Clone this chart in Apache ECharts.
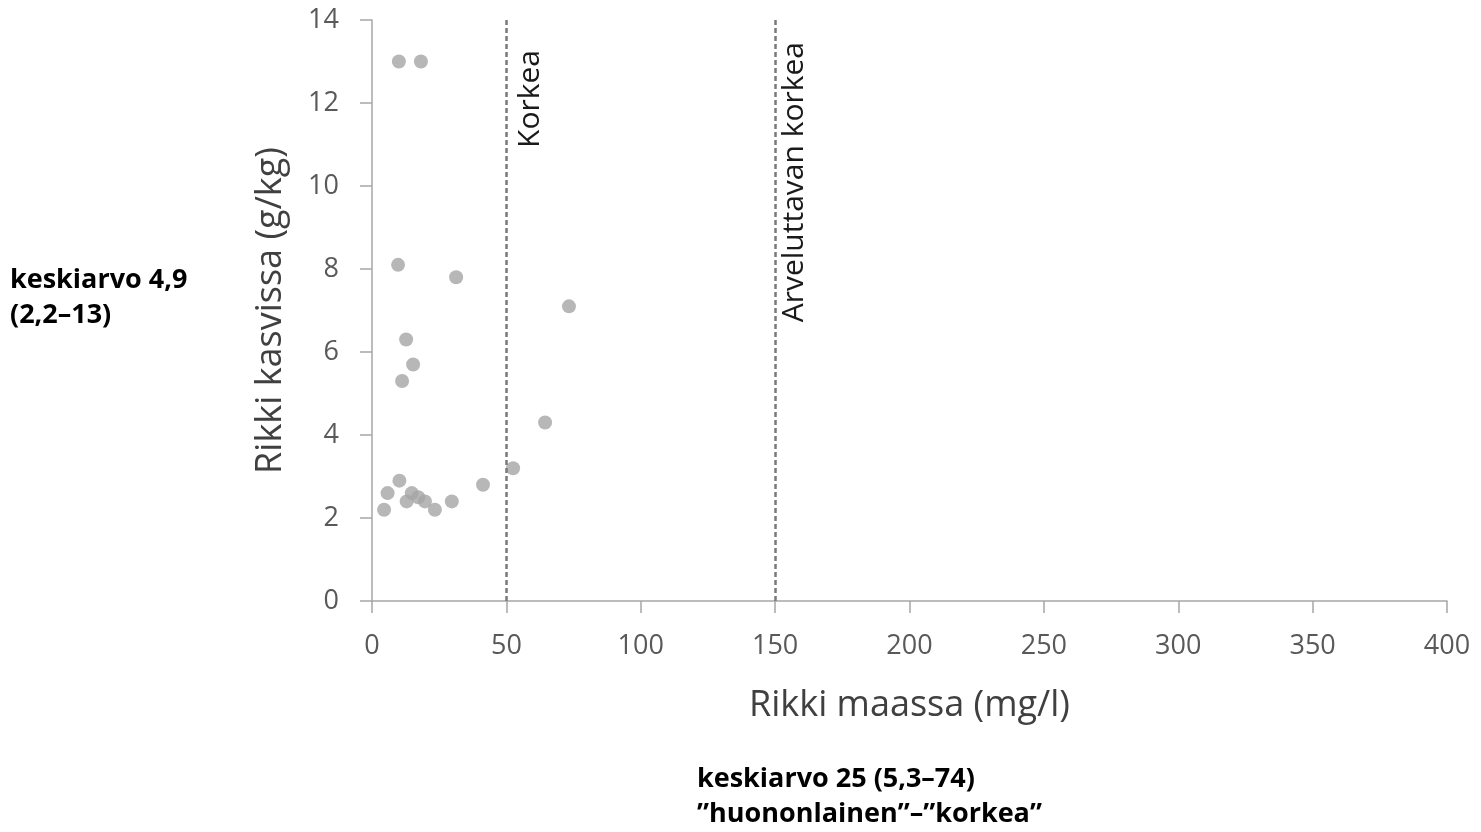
<!DOCTYPE html>
<html>
<head>
<meta charset="utf-8">
<script src="https://cdn.jsdelivr.net/npm/echarts@6/dist/echarts.min.js"></script>
<style>
html,body{margin:0;padding:0;background:#fff;}
#chart{width:1481px;height:832px;}
</style>
</head>
<body>
<div id="chart"></div>
<script>
// Rikki maassa (mg/l) values
var soilSulfur = [10, 18.2, 9.7, 31.3, 73.3, 12.7, 15.3, 11.2, 64.4, 52.5, 41.3, 10.2, 5.8, 4.5, 14.8, 12.9, 17.2, 19.7, 23.4, 29.7];
// Rikki kasvissa (g/kg) values
var plantSulfur = [13, 13, 8.1, 7.8, 7.1, 6.3, 5.7, 5.3, 4.3, 3.2, 2.8, 2.9, 2.6, 2.2, 2.6, 2.4, 2.5, 2.4, 2.2, 2.4];
var thresholds = [50, 150];
var thresholdLabels = ['Korkea', 'Arveluttavan korkea'];
var xTitle = 'Rikki maassa (mg/l)';
var yTitle = 'Rikki kasvissa (g/kg)';
var leftNote = ['keskiarvo 4,9', '(2,2\u201313)'];
var bottomNote = ['keskiarvo 25 (5,3\u201374)', '\u201Dhuononlainen\u201D\u2013\u201Dkorkea\u201D'];

var points = soilSulfur.map(function (x, i) { return [x, plantSulfur[i]]; });
var font = '"Open Sans", "Noto Sans", sans-serif';
var labelDist = [[30, 9], [22, 4]];

var chart = echarts.init(document.getElementById('chart'));
chart.setOption({
  animation: false,
  backgroundColor: '#fff',
  grid: { left: 372, right: 34, top: 20, bottom: 231 },
  xAxis: {
    type: 'value', min: 0, max: 400, interval: 50,
    name: xTitle, nameLocation: 'middle', nameGap: 87,
    nameTextStyle: { fontFamily: font, fontSize: 36, color: '#404040' },
    axisLine: { show: true, lineStyle: { color: '#a6a6a6', width: 1.5 } },
    axisTick: { show: true, length: 12, lineStyle: { color: '#a6a6a6', width: 1.5 } },
    axisLabel: { fontFamily: font, fontSize: 27, color: '#595959', margin: 32 },
    splitLine: { show: false }
  },
  yAxis: {
    type: 'value', min: 0, max: 14, interval: 2,
    name: yTitle, nameLocation: 'middle', nameGap: 83,
    nameTextStyle: { fontFamily: font, fontSize: 36, color: '#404040' },
    axisLine: { show: true, lineStyle: { color: '#a6a6a6', width: 1.5 } },
    axisTick: { show: true, length: 12, lineStyle: { color: '#a6a6a6', width: 1.5 } },
    axisLabel: { fontFamily: font, fontSize: 27, color: '#595959', margin: 33 },
    splitLine: { show: false }
  },
  series: [{
    type: 'scatter',
    data: points,
    symbolSize: 14,
    itemStyle: { color: '#a5a5a5' },
    markLine: {
      silent: true,
      symbol: ['none', 'none'],
      lineStyle: { color: '#7a7a7a', type: [5, 3], width: 2.5 },
      label: {
        show: true, position: 'insideEndBottom',
        fontFamily: font, fontSize: 30, color: '#1a1a1a',
        formatter: function (p) { return p.name; }
      },
      data: thresholds.map(function (v, i) {
        return { xAxis: v, name: thresholdLabels[i], label: { distance: labelDist[i] } };
      })
    }
  }],
  graphic: [
    { type: 'text', left: 10, top: 263, style: { text: leftNote.join('\n'), fontFamily: font, fontWeight: 'bold', fontSize: 27, lineHeight: 35, fill: '#000' } },
    { type: 'text', left: 697, top: 762, style: { text: bottomNote.join('\n'), fontFamily: font, fontWeight: 'bold', fontSize: 27, lineHeight: 35, fill: '#000' } }
  ]
});
</script>
</body>
</html>
